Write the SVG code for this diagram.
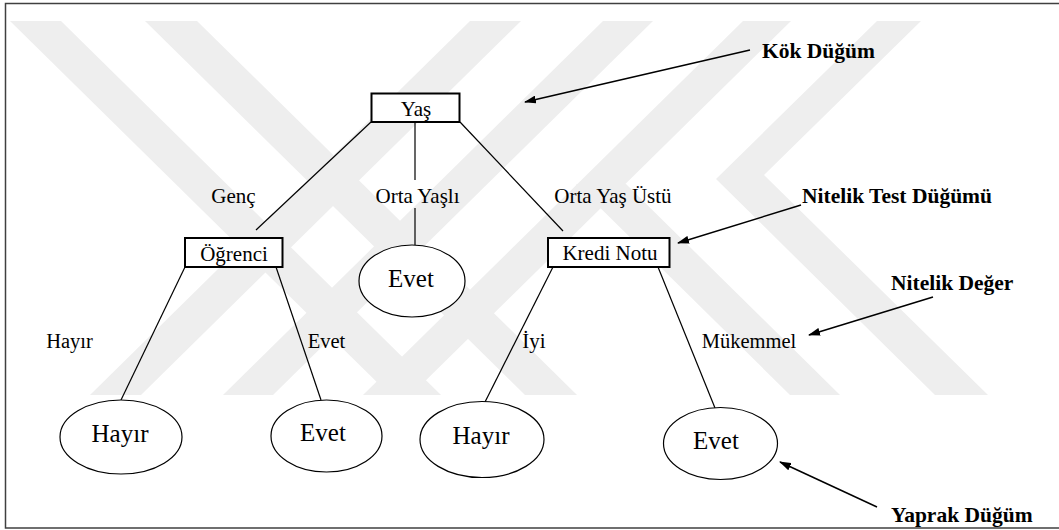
<svg xmlns="http://www.w3.org/2000/svg" width="1059" height="530" viewBox="0 0 1059 530">
  <style>
    .wm { fill: #eeeeee; stroke: none; }
    .box { fill: #ffffff; stroke: #000000; stroke-width: 2; }
    .leaf { fill: #ffffff; stroke: #000000; stroke-width: 1.2; }
    .edge { fill: none; stroke: #000000; stroke-width: 1.2; }
    .ptr { fill: none; stroke: #000000; stroke-width: 1.5; marker-end: url(#head); }
  </style>
  <defs>
    <marker id="head" viewBox="0 0 12 8" refX="11" refY="4" markerWidth="12" markerHeight="8" markerUnits="userSpaceOnUse" orient="auto">
      <path d="M0,0 L12,4 L0,8 Z" fill="#000000"/>
    </marker>
  </defs>

  <rect width="1059" height="530" fill="#ffffff"/>

  <!-- background stripe emblem -->
  <g id="emblem">
    <polygon class="wm" points="10,21 61,21 441,395 390,395"/>
    <polygon class="wm" points="145,21 197,21 577,395 525,395"/>
    <polygon class="wm" points="90,395 141,395 521,21 470,21"/>
    <polygon class="wm" points="223,395 273,395 653,21 603,21"/>
    <polygon class="wm" points="363,395 411,395 791,21 743,21"/>
    <polygon class="wm" points="790,395 840,395 626,184 576,184"/>
    <polygon class="wm" points="877,21 921,21 764,175 988,395 935,395 716,179"/>
  </g>

  <!-- page frame -->
  <path d="M1060,3.5 H5.5 V528 H1060" fill="none" stroke="#404040" stroke-width="1.5"/>

  <!-- tree edges, value labels and callout pointers -->
  <g id="connectors">
    <line class="edge" x1="371" y1="122" x2="256" y2="230"/>
    <line class="edge" x1="415" y1="123" x2="415" y2="180"/>
    <line class="edge" x1="415" y1="208" x2="415" y2="245"/>
    <line class="edge" x1="460" y1="122" x2="563" y2="231"/>
    <line class="edge" x1="185" y1="267" x2="121" y2="400"/>
    <line class="edge" x1="276" y1="267" x2="321" y2="400"/>
    <line class="edge" x1="553" y1="267" x2="485" y2="402"/>
    <line class="edge" x1="658" y1="267" x2="715" y2="408"/>

    <text font-family="Liberation Serif" font-size="21" text-anchor="middle" x="233.5" y="203">Genç</text>
    <text font-family="Liberation Serif" font-size="21" text-anchor="middle" x="417.5" y="203">Orta Yaşlı</text>
    <text font-family="Liberation Serif" font-size="21" text-anchor="middle" x="613" y="203">Orta Yaş Üstü</text>
    <text font-family="Liberation Serif" font-size="20.5" text-anchor="middle" x="69.5" y="348">Hayır</text>
    <text font-family="Liberation Serif" font-size="20.5" text-anchor="middle" x="326.5" y="348">Evet</text>
    <text font-family="Liberation Serif" font-size="21" text-anchor="middle" x="534" y="348">İyi</text>
    <text font-family="Liberation Serif" font-size="20.5" text-anchor="middle" x="749" y="348">Mükemmel</text>

    <line class="ptr" x1="750" y1="50" x2="525" y2="102"/>
    <line class="ptr" x1="801" y1="205" x2="678" y2="243"/>
    <line class="ptr" x1="933" y1="297" x2="809" y2="335"/>
    <line class="ptr" x1="877" y1="507" x2="780" y2="462"/>
  </g>

  <!-- attribute test nodes -->
  <g id="node-yas">
    <rect class="box" x="371.5" y="93.5" width="88" height="28.5"/>
    <text font-family="Liberation Serif" font-size="21" text-anchor="middle" x="416" y="115.5">Yaş</text>
  </g>
  <g id="node-ogrenci">
    <rect class="box" x="185" y="238" width="97.5" height="29"/>
    <text font-family="Liberation Serif" font-size="21" text-anchor="middle" x="234" y="260.5">Öğrenci</text>
  </g>
  <g id="node-kredi">
    <rect class="box" x="548" y="238" width="121.5" height="29"/>
    <text font-family="Liberation Serif" font-size="21" text-anchor="middle" x="610" y="260">Kredi Notu</text>
  </g>

  <!-- leaf nodes -->
  <g id="leaf-orta">
    <ellipse class="leaf" cx="412" cy="281" rx="53" ry="36"/>
    <text font-family="Liberation Serif" font-size="25" text-anchor="middle" x="411" y="287">Evet</text>
  </g>
  <g id="leaf-ogrenci-hayir">
    <ellipse class="leaf" cx="121" cy="437" rx="61" ry="37"/>
    <text font-family="Liberation Serif" font-size="25" text-anchor="middle" x="120" y="442">Hayır</text>
  </g>
  <g id="leaf-ogrenci-evet">
    <ellipse class="leaf" cx="326.5" cy="436" rx="55.5" ry="36"/>
    <text font-family="Liberation Serif" font-size="25" text-anchor="middle" x="323" y="441">Evet</text>
  </g>
  <g id="leaf-kredi-hayir">
    <ellipse class="leaf" cx="482" cy="439.5" rx="62" ry="38"/>
    <text font-family="Liberation Serif" font-size="25" text-anchor="middle" x="481" y="444">Hayır</text>
  </g>
  <g id="leaf-kredi-evet">
    <ellipse class="leaf" cx="720.5" cy="443.5" rx="57" ry="36"/>
    <text font-family="Liberation Serif" font-size="25" text-anchor="middle" x="716" y="448.5">Evet</text>
  </g>

  <!-- callout captions -->
  <g id="captions">
    <text font-family="Liberation Serif" font-size="21.5" font-weight="bold" x="762" y="57.5">Kök Düğüm</text>
    <text font-family="Liberation Serif" font-size="21.5" font-weight="bold" x="802" y="203">Nitelik Test Düğümü</text>
    <text font-family="Liberation Serif" font-size="21.5" font-weight="bold" x="891" y="290">Nitelik Değer</text>
    <text font-family="Liberation Serif" font-size="21.5" font-weight="bold" x="891" y="522">Yaprak Düğüm</text>
  </g>
</svg>
